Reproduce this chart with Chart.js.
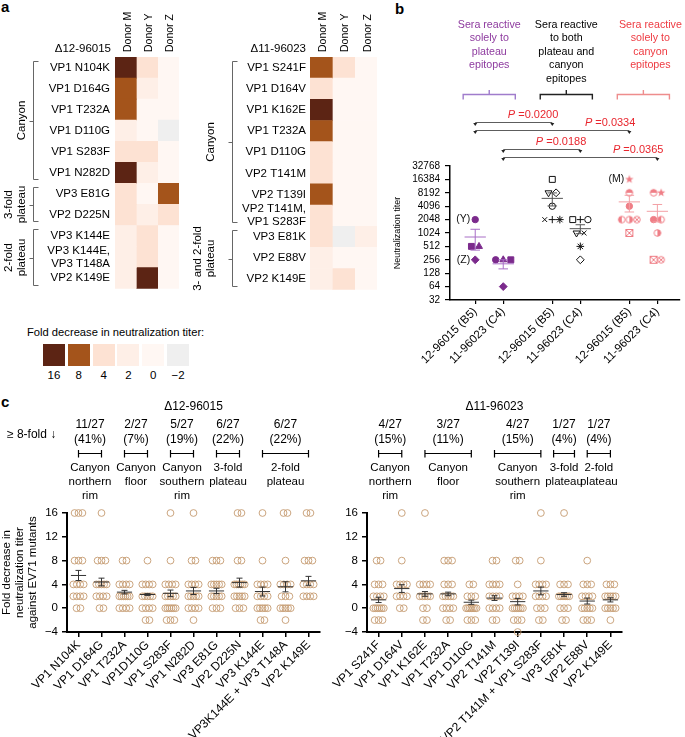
<!DOCTYPE html>
<html>
<head>
<meta charset="utf-8">
<script src="https://cdn.jsdelivr.net/npm/chart.js@4.4.1/dist/chart.umd.min.js"></script>
<style>
 html, body { margin:0; padding:0; background:#fff; }
 body { width:685px; height:737px; position:relative; overflow:hidden; font-family:'Liberation Sans', Arial, Helvetica, sans-serif; color:#000; }
 canvas { position:absolute; }
 .t { position:absolute; white-space:nowrap; line-height:1; }
 .letter { font-weight:bold; font-size:15px; }
</style>
</head>
<body>
<div class="t letter" style="left:1px;top:-1px">a</div>
<div class="t letter" style="left:395px;top:1px">b</div>
<div class="t letter" style="left:1px;top:394px">c</div>
<canvas id="hm1" width="195" height="300" style="left:0;top:0"></canvas>
<canvas id="hm2" width="200" height="300" style="left:190px;top:0"></canvas>
<div id="hmLegend"></div>
<canvas id="pb" width="300" height="400" style="left:385px;top:0"></canvas>
<canvas id="pc1" width="335" height="337" style="left:0;top:400px"></canvas>
<canvas id="pc2" width="365" height="337" style="left:320px;top:400px"></canvas>
<script>
// ================= DATA =================
// Panel a – heatmaps (fold decrease in neutralization titer)
const donors = ['Donor M', 'Donor Y', 'Donor Z'];
const rowsA1 = ['VP1 N104K', 'VP1 D164G', 'VP1 T232A', 'VP1 D110G', 'VP1 S283F', 'VP1 N282D',
                'VP3 E81G', 'VP2 D225N', 'VP3 K144E', ['VP3 K144E,', 'VP3 T148A'], 'VP2 K149E'];
const foldA1_M = [16, 8, 8, 2, 4, 16, 4, 4, 2, 2, 2];
const foldA1_Y = [4, 2, 0, 0, 4, 2, 0, 2, 4, 4, 16];
const foldA1_Z = [0, 0, 0, -2, 0, 0, 8, 4, 0, 0, 0];
const groupsA1 = [
  {label: ['Canyon'], from: 0, to: 5},
  {label: ['3-fold', 'plateau'], from: 6, to: 7},
  {label: ['2-fold', 'plateau'], from: 8, to: 10}
];
const rowsA2 = ['VP1 S241F', 'VP1 D164V', 'VP1 K162E', 'VP1 T232A', 'VP1 D110G', 'VP2 T141M',
                'VP2 T139I', ['VP2 T141M,', 'VP1 S283F'], 'VP3 E81K', 'VP2 E88V', 'VP2 K149E'];
const foldA2_M = [8, 4, 16, 8, 4, 4, 8, 4, 4, 2, 2];
const foldA2_Y = [4, 0, 0, 0, 0, 0, 0, 0, -2, 0, 4];
const foldA2_Z = [0, 0, 0, 0, 0, 0, 0, 0, 2, 0, 0];
const groupsA2 = [
  {label: ['Canyon'], from: 0, to: 7},
  {label: ['3- and 2-fold', 'plateau'], from: 8, to: 10}
];
const legendLevels = [16, 8, 4, 2, 0, -2];

// Panel b – neutralization titers
const virusesB = ['12-96015 (B5)', '11-96023 (C4)'];
const titerPlateauB5 = [2048, 512, 512, 256];
const titerPlateauC4 = [256, 256, 256, 64];
const titerBothB5 = [16384, 8192, 8192, 4096, 2048, 2048, 2048];
const titerBothC4 = [2048, 2048, 2048, 1024, 1024, 512, 256];
const titerCanyonB5 = [16384, 8192, 4096, 2048, 2048, 2048, 1024];
const titerCanyonC4 = [8192, 8192, 2048, 2048, 1024, 256, 256];
const yTicksB = [32, 64, 128, 256, 512, 1024, 2048, 4096, 8192, 16384, 32768];
const headersB = [
  ['Sera reactive', 'solely to', 'plateau', 'epitopes'],
  ['Sera reactive', 'to both', 'plateau and', 'canyon', 'epitopes'],
  ['Sera reactive', 'solely to', 'canyon', 'epitopes']
];
const pValues = ['0.0200', '0.0334', '0.0188', '0.0365'];
const pPairs = [[[0, 0], [1, 0]], [[0, 0], [2, 0]], [[0, 1], [1, 1]], [[0, 1], [2, 1]]];

// Panel c – fold decrease per serum (counts of sera at each fold level, per mutant)
const foldLevelsC = [16, 8, 4, 2, 0, -2, -4];
const yTicksC = [-4, 0, 4, 8, 12, 16];
const mutantsC1 = ['VP1 N104K', 'VP1 D164G', 'VP1 T232A', 'VP1D110G', 'VP1 S283F', 'VP1 N282D',
                   'VP3 E81G', 'VP2 D225N', 'VP3 K144E', 'VP3K144E + VP3 T148A', 'VP2 K149E'];
const c1_at16 = [3, 1, 0, 0, 1, 1, 0, 2, 1, 2, 2];
const c1_at8  = [3, 3, 2, 1, 1, 2, 3, 2, 1, 1, 3];
const c1_at4  = [4, 5, 4, 4, 4, 4, 5, 6, 4, 4, 4];
const c1_at2  = [4, 4, 6, 5, 5, 5, 5, 5, 4, 3, 4];
const c1_at0  = [2, 2, 4, 4, 6, 4, 3, 3, 5, 5, 0];
const c1_atm2 = [0, 0, 0, 2, 3, 1, 0, 0, 2, 1, 0];
const c1_atm4 = [0, 0, 0, 0, 0, 0, 0, 0, 0, 0, 0];
const c1_mean = [5.5, 4.4, 2.7, 2.3, 2.5, 2.9, 2.9, 4.3, 2.8, 3.6, 4.6];
const c1_sem  = [0.85, 0.65, 0.3, 0.15, 0.55, 0.6, 0.45, 0.75, 0.75, 0.85, 0.75];
const regionsC1 = [
  {from: 0, to: 1, frac: ['11/27', '(41%)'], label: ['Canyon', 'northern', 'rim']},
  {from: 2, to: 3, frac: ['2/27', '(7%)'], label: ['Canyon', 'floor']},
  {from: 4, to: 5, frac: ['5/27', '(19%)'], label: ['Canyon', 'southern', 'rim']},
  {from: 6, to: 7, frac: ['6/27', '(22%)'], label: ['3-fold', 'plateau']},
  {from: 8, to: 10, frac: ['6/27', '(22%)'], label: ['2-fold', 'plateau']}
];
const mutantsC2 = ['VP1 S241F', 'VP1 D164V', 'VP1 K162E', 'VP1 T232A', 'VP1 D110G', 'VP2 T141M',
                   'VP2 T139I', 'VP2 T141M + VP1 S283F', 'VP3 E81K', 'VP2 E88V', 'VP2 K149E'];
const c2_at16 = [0, 1, 1, 0, 0, 0, 0, 1, 1, 0, 0];
const c2_at8  = [2, 1, 0, 3, 0, 2, 2, 1, 0, 1, 0];
const c2_at4  = [3, 4, 4, 3, 2, 4, 1, 4, 3, 3, 3];
const c2_at2  = [4, 4, 5, 5, 3, 4, 4, 4, 6, 4, 5];
const c2_at0  = [6, 2, 2, 4, 7, 4, 6, 3, 3, 5, 5];
const c2_atm2 = [3, 0, 2, 2, 3, 2, 3, 2, 2, 3, 1];
const c2_atm4 = [0, 0, 0, 0, 0, 0, 1, 0, 0, 0, 0];
const c2_mean = [1.4, 3.3, 2.4, 2.4, 1.0, 1.7, 1.1, 2.9, 2.3, 1.2, 1.4];
const c2_sem  = [0.45, 0.65, 0.4, 0.3, 0.35, 0.4, 0.55, 0.65, 0.3, 0.5, 0.35];
const regionsC2 = [
  {from: 0, to: 1, frac: ['4/27', '(15%)'], label: ['Canyon', 'northern', 'rim']},
  {from: 2, to: 4, frac: ['3/27', '(11%)'], label: ['Canyon', 'floor']},
  {from: 5, to: 7, frac: ['4/27', '(15%)'], label: ['Canyon', 'southern', 'rim']},
  {from: 8, to: 8, frac: ['1/27', '(4%)'], label: ['3-fold', 'plateau']},
  {from: 9, to: 10, frac: ['1/27', '(4%)'], label: ['2-fold', 'plateau']}
];

// ================= STYLE / HELPERS =================
const FONT = "'Liberation Sans', Arial, Helvetica, sans-serif";
Chart.defaults.font.family = FONT;
Chart.defaults.color = '#000';
Chart.defaults.animation = false;
Chart.defaults.plugins.legend.display = false;
Chart.defaults.plugins.tooltip.enabled = false;

const foldColor = {'16': '#5c2414', '8': '#a4541b', '4': '#fde2d3', '2': '#feefe7', '0': '#fff7f3', '-2': '#efefef'};
const fmtMinus = v => (v < 0 ? '\u2212' + Math.abs(v) : String(v));

function drawRotText(ctx, text, x, y, align) {
  ctx.save();
  ctx.translate(x, y);
  ctx.rotate(-Math.PI / 2);
  ctx.textAlign = align;
  ctx.textBaseline = 'middle';
  ctx.fillText(text, 0, 0);
  ctx.restore();
}

function jitterOffsets(values, spacing, maxSpan) {
  const count = {}, seen = {};
  values.forEach(v => { count[v] = (count[v] || 0) + 1; });
  return values.map(v => {
    const n = count[v];
    const k = seen[v] = (seen[v] === undefined ? 0 : seen[v] + 1);
    let s = spacing;
    if (maxSpan && n > 1) s = Math.min(spacing, maxSpan / (n - 1));
    return (k - (n - 1) / 2) * s;
  });
}

// ================= PANEL a =================
function makeHeatmap(id, title, rows, folds, groups, geo) {
  const plugin = {
    id: 'heat_' + id,
    afterDraw(chart) {
      const {ctx, chartArea: ca, scales: {x, y}} = chart;
      ctx.save();
      ctx.fillStyle = '#000';
      ctx.font = '11.5px ' + FONT;
      ctx.textAlign = 'right';
      ctx.textBaseline = 'middle';
      ctx.fillText(title, ca.left - 4, 49);
      ctx.font = '10.5px ' + FONT;
      donors.forEach((d, i) => drawRotText(ctx, d, x.getPixelForValue(i + 0.5) + 2, ca.top - 5, 'left'));
      const half = (y.getPixelForValue(1) - y.getPixelForValue(0)) / 2;
      ctx.strokeStyle = '#666';
      ctx.lineWidth = 1;
      ctx.font = '11.5px ' + FONT;
      groups.forEach(gr => {
        const top = Math.round(y.getPixelForValue(gr.from) - half + 4) + 0.5;
        const bot = Math.round(y.getPixelForValue(gr.to) + half - 4) + 0.5;
        const bx = geo.bracketX + 0.5;
        const mid = (top + bot) / 2;
        ctx.beginPath();
        ctx.moveTo(bx + 5, top); ctx.lineTo(bx, top); ctx.lineTo(bx, bot); ctx.lineTo(bx + 5, bot);
        ctx.moveTo(bx, Math.round(mid) + 0.5); ctx.lineTo(bx - 4, Math.round(mid) + 0.5);
        ctx.stroke();
        gr.label.forEach((line, k) => drawRotText(ctx, line, geo.labelX - (gr.label.length - 1 - k) * 13, mid, 'center'));
      });
      ctx.restore();
    }
  };
  new Chart(document.getElementById(id), {
    type: 'bar',
    data: {
      labels: rows,
      datasets: folds.map((f, i) => ({
        label: donors[i],
        data: rows.map(() => 1),
        backgroundColor: f.map(v => foldColor[v]),
        borderWidth: 0,
        barPercentage: 1,
        categoryPercentage: 1
      }))
    },
    options: {
      indexAxis: 'y',
      responsive: false,
      layout: {padding: {top: 57, bottom: 3, left: 0, right: geo.padRight}},
      scales: {
        x: {stacked: true, min: 0, max: 3, display: false},
        y: {
          stacked: true,
          grid: {display: false, drawTicks: false},
          border: {display: false},
          ticks: {autoSkip: false, padding: geo.labelPad, font: {size: 11.5, lineHeight: 1.1}, color: '#000'},
          afterFit(s) { s.width = geo.axisWidth; }
        }
      }
    },
    plugins: [plugin]
  });
}
makeHeatmap('hm1', '\u039412-96015', rowsA1, [foldA1_M, foldA1_Y, foldA1_Z], groupsA1,
  {padRight: 16, labelPad: 5, axisWidth: 115, bracketX: 33, labelX: 22});
makeHeatmap('hm2', '\u039411-96023', rowsA2, [foldA2_M, foldA2_Y, foldA2_Z], groupsA2,
  {padRight: 13, labelPad: 4, axisWidth: 120, bracketX: 42, labelX: 21});

(function legend() {
  const leg = document.getElementById('hmLegend');
  let html = '<div class="t" style="left:27px;top:327px;font-size:11.2px">Fold decrease in neutralization titer:</div>';
  legendLevels.forEach((v, i) => {
    const left = 43 + i * 24.8;
    html += `<div style="position:absolute;left:${left}px;top:344px;width:22px;height:22px;background:${foldColor[v]}"></div>`;
    html += `<div class="t" style="left:${left - 4}px;width:30px;text-align:center;top:370px;font-size:11.5px">${fmtMinus(v)}</div>`;
  });
  leg.innerHTML = html;
})();

// ================= PANEL b =================
const xOf = (g, v) => 1 + g * 2.75 + v;
const groupStyleB = [
  {point: '#7b2a8c', fill: true, mean: '#a86ec6', header: '#8e3b9f', bracket: '#a07ccc'},
  {point: '#111111', fill: false, mean: '#555555', header: '#000000', bracket: '#222222'},
  {point: '#ef7e86', fill: true, mean: '#f3a0a5', header: '#ee3b42', bracket: '#ee8d8d'}
];
const markPlateauB5 = ['circle', 'rect', 'triangle', 'rectRot'];
const markPlateauC4 = ['circle', 'triangle', 'rect', 'rectRot'];
const markBothB5 = ['rect', 'triangleDown', 'rectRot', 'circle', 'crossRot', 'cross', 'star'];
const markBothC4 = ['rect', 'cross', 'circle', 'triangleDown', 'crossRot', 'star', 'rectRot'];
const markCanyonB5 = ['star5', 'halfTop', 'circle', 'halfLeft', 'halfRight', 'circleX', 'squareX'];
const markCanyonC4 = ['halfTop', 'star5', 'circle', 'halfLeft', 'halfRight', 'squareX', 'circleX'];
const seriesB = [
  {g: 0, v: 0, titers: titerPlateauB5, marks: markPlateauB5, tags: ['(Y)', '', '', '(Z)']},
  {g: 0, v: 1, titers: titerPlateauC4, marks: markPlateauC4},
  {g: 1, v: 0, titers: titerBothB5, marks: markBothB5},
  {g: 1, v: 1, titers: titerBothC4, marks: markBothC4},
  {g: 2, v: 0, titers: titerCanyonB5, marks: markCanyonB5, tags: ['(M)']},
  {g: 2, v: 1, titers: titerCanyonC4, marks: markCanyonC4}
];

function markerCanvas(kind, color) {
  const c = document.createElement('canvas');
  c.width = 10; c.height = 10;
  const g = c.getContext('2d');
  const cx = 5, cy = 5, r = 3.3;
  g.strokeStyle = color; g.fillStyle = color; g.lineWidth = 1;
  const ring = () => { g.beginPath(); g.arc(cx, cy, r, 0, Math.PI * 2); g.stroke(); };
  switch (kind) {
    case 'star5':
      g.beginPath();
      for (let i = 0; i < 10; i++) {
        const a = -Math.PI / 2 + i * Math.PI / 5, rr = i % 2 ? 1.8 : 4.4;
        g.lineTo(cx + rr * Math.cos(a), cy + rr * Math.sin(a));
      }
      g.closePath(); g.fill(); break;
    case 'halfTop':
      ring(); g.beginPath(); g.arc(cx, cy, r, Math.PI, Math.PI * 2); g.closePath(); g.fill(); break;
    case 'halfLeft':
      ring(); g.beginPath(); g.arc(cx, cy, r, Math.PI / 2, Math.PI * 1.5); g.closePath(); g.fill(); break;
    case 'halfRight':
      ring(); g.beginPath(); g.arc(cx, cy, r, -Math.PI / 2, Math.PI / 2); g.closePath(); g.fill(); break;
    case 'circleX':
      ring(); g.beginPath();
      g.moveTo(cx - 2.3, cy - 2.3); g.lineTo(cx + 2.3, cy + 2.3);
      g.moveTo(cx + 2.3, cy - 2.3); g.lineTo(cx - 2.3, cy + 2.3); g.stroke(); break;
    case 'squareX':
      g.strokeRect(1.5, 1.5, 7, 7); g.beginPath();
      g.moveTo(1.5, 1.5); g.lineTo(8.5, 8.5); g.moveTo(8.5, 1.5); g.lineTo(1.5, 8.5); g.stroke(); break;
  }
  return c;
}
const customKinds = ['star5', 'halfTop', 'halfLeft', 'halfRight', 'circleX', 'squareX'];
const radiusFor = {circle: 3.2, rect: 4.2, rectRot: 3.9, triangle: 4, triangleDown: 4, cross: 3.6, crossRot: 3.4, star: 3.8};

const datasetsB = seriesB.map(s => {
  const st = groupStyleB[s.g];
  const offs = jitterOffsets(s.titers, 0.27);
  const styles = s.marks.map(m => customKinds.includes(m) ? markerCanvas(m, st.point) : (m === 'triangleDown' ? 'triangle' : m));
  return {
    data: s.titers.map((t, i) => ({x: xOf(s.g, s.v) + offs[i], y: t})),
    pointStyle: ctx => styles[ctx.dataIndex],
    rotation: ctx => (s.marks[ctx.dataIndex] === 'triangleDown' ? 180 : 0),
    pointRadius: ctx => radiusFor[s.marks[ctx.dataIndex]] || 3.5,
    borderColor: st.point,
    backgroundColor: st.fill ? st.point : 'rgba(0,0,0,0)',
    borderWidth: 1,
    clip: false
  };
});

const meanPluginB = {
  id: 'meanB',
  afterDatasetsDraw(chart) {
    const {ctx, scales: {x, y}} = chart;
    const unit = x.getPixelForValue(1) - x.getPixelForValue(0);
    ctx.save();
    ctx.lineWidth = 1;
    seriesB.forEach(s => {
      const vals = s.titers, n = vals.length;
      const m = vals.reduce((a, b) => a + b, 0) / n;
      const sd = Math.sqrt(vals.reduce((a, b) => a + (b - m) * (b - m), 0) / (n - 1));
      const se = sd / Math.sqrt(n);
      const cx = x.getPixelForValue(xOf(s.g, s.v));
      const ym = y.getPixelForValue(m), yt = y.getPixelForValue(m + se), yb = y.getPixelForValue(m - se);
      ctx.strokeStyle = groupStyleB[s.g].mean;
      ctx.beginPath();
      ctx.moveTo(cx - 0.38 * unit, ym); ctx.lineTo(cx + 0.38 * unit, ym);
      ctx.moveTo(cx, yt); ctx.lineTo(cx, yb);
      ctx.moveTo(cx - 0.17 * unit, yt); ctx.lineTo(cx + 0.17 * unit, yt);
      ctx.moveTo(cx - 0.17 * unit, yb); ctx.lineTo(cx + 0.17 * unit, yb);
      ctx.stroke();
    });
    ctx.restore();
  }
};

const pLineY = [122, 130, 149, 157];
const annotPluginB = {
  id: 'annotB',
  afterDraw(chart) {
    const {ctx, chartArea: ca, scales: {x}} = chart;
    const unit = x.getPixelForValue(1) - x.getPixelForValue(0);
    ctx.save();
    // headers + brackets
    ctx.textAlign = 'center'; ctx.textBaseline = 'middle';
    ctx.font = '10.7px ' + FONT;
    headersB.forEach((lines, g) => {
      const cx = x.getPixelForValue(xOf(g, 0.5));
      ctx.fillStyle = groupStyleB[g].header;
      lines.forEach((t, k) => ctx.fillText(t, cx + (g === 2 ? 7 : 0), 25 + 13.5 * k));
      ctx.strokeStyle = groupStyleB[g].bracket; ctx.lineWidth = 1.4;
      const x1 = cx - 0.93 * unit, x2 = cx + 0.93 * unit;
      ctx.beginPath();
      ctx.moveTo(x1, 99.5); ctx.lineTo(x1, 94.5); ctx.lineTo(x2, 94.5); ctx.lineTo(x2, 99.5);
      ctx.moveTo(cx, 94.5); ctx.lineTo(cx, 90);
      ctx.stroke();
    });
    // p-value comparisons
    pPairs.forEach((pr, k) => {
      const xa = x.getPixelForValue(xOf(pr[0][0], pr[0][1]));
      const xb = x.getPixelForValue(xOf(pr[1][0], pr[1][1]));
      const ly = pLineY[k] + 0.5;
      ctx.strokeStyle = '#333'; ctx.fillStyle = '#222'; ctx.lineWidth = 0.8;
      ctx.beginPath(); ctx.moveTo(xa, ly); ctx.lineTo(xb, ly); ctx.stroke();
      [xa, xb].forEach(px => {
        ctx.beginPath(); ctx.moveTo(px - 2, ly + 0.5); ctx.lineTo(px + 2, ly + 0.5); ctx.lineTo(px, ly + 3.5); ctx.closePath(); ctx.fill();
      });
      ctx.fillStyle = '#e8262e';
      ctx.textAlign = 'left'; ctx.textBaseline = 'alphabetic';
      ctx.font = 'italic 11px ' + FONT; const wP = ctx.measureText('P').width;
      const rest = ' =' + pValues[k];
      ctx.font = '11px ' + FONT; const wR = ctx.measureText(rest).width;
      const right = xb + 6;
      ctx.font = 'italic 11px ' + FONT; ctx.fillText('P', right - wR - wP, ly - 5);
      ctx.font = '11px ' + FONT; ctx.fillText(rest, right - wR, ly - 5);
    });
    // y title
    ctx.fillStyle = '#000'; ctx.font = '9px ' + FONT;
    drawRotText(ctx, 'Neutralization titer', 13, (ca.top + ca.bottom) / 2, 'center');
    // donor tags next to points
    ctx.font = '10.5px ' + FONT; ctx.textAlign = 'right'; ctx.textBaseline = 'middle'; ctx.fillStyle = '#111';
    seriesB.forEach((s, di) => {
      if (!s.tags) return;
      const meta = chart.getDatasetMeta(di);
      s.tags.forEach((t, i) => { if (t) ctx.fillText(t, meta.data[i].x - 5, meta.data[i].y); });
    });
    ctx.restore();
  }
};

new Chart(document.getElementById('pb'), {
  type: 'scatter',
  data: {datasets: datasetsB},
  options: {
    responsive: false,
    layout: {padding: {top: 166, right: 5, left: 0, bottom: 0}},
    scales: {
      x: {
        type: 'linear', min: 0.1, max: 8.3,
        afterBuildTicks(s) { s.ticks = [0, 1, 2].flatMap(g => [0, 1].map(v => ({value: xOf(g, v)}))); },
        ticks: {autoSkip: false, minRotation: 45, maxRotation: 45, padding: 1, font: {size: 11.5}, callback: (v, i) => virusesB[i % 2]},
        grid: {drawOnChartArea: false, tickLength: 4, color: '#000', lineWidth: 1.2},
        border: {color: '#000', width: 1.5},
        afterFit(s) { s.height = 100; }
      },
      y: {
        type: 'logarithmic', min: 32, max: 32768,
        afterBuildTicks(s) { s.ticks = yTicksB.map(v => ({value: v})); },
        ticks: {autoSkip: false, padding: 5, font: {size: 10}, callback: v => String(v)},
        grid: {drawOnChartArea: false, tickLength: 5, color: '#000', lineWidth: 1.2},
        border: {color: '#000', width: 1.5},
        afterFit(s) { s.width = 65; }
      }
    }
  },
  plugins: [meanPluginB, annotPluginB]
});

// ================= PANEL c =================
function panelCPlugin(cfg) {
  return {
    id: 'pc_' + cfg.id,
    afterDatasetsDraw(chart) {
      const {ctx, scales: {x, y}} = chart;
      const w = x.getPixelForValue(1) - x.getPixelForValue(0);
      ctx.save();
      ctx.strokeStyle = '#333'; ctx.lineWidth = 1;
      cfg.means.forEach((m, i) => {
        const cx = x.getPixelForValue(i);
        const ym = y.getPixelForValue(m), yt = y.getPixelForValue(m + cfg.sems[i]), yb = y.getPixelForValue(m - cfg.sems[i]);
        ctx.beginPath();
        ctx.moveTo(cx - 0.33 * w, ym); ctx.lineTo(cx + 0.33 * w, ym);
        ctx.moveTo(cx, yt); ctx.lineTo(cx, yb);
        ctx.moveTo(cx - 0.13 * w, yt); ctx.lineTo(cx + 0.13 * w, yt);
        ctx.moveTo(cx - 0.13 * w, yb); ctx.lineTo(cx + 0.13 * w, yb);
        ctx.stroke();
      });
      ctx.restore();
    },
    afterDraw(chart) {
      const {ctx, chartArea: ca, scales: {x}} = chart;
      const w = x.getPixelForValue(1) - x.getPixelForValue(0);
      ctx.save();
      ctx.fillStyle = '#000'; ctx.strokeStyle = '#000';
      ctx.textAlign = 'center'; ctx.textBaseline = 'middle';
      ctx.font = '12px ' + FONT;
      ctx.fillText(cfg.header, (ca.left + ca.right) / 2, 7);
      cfg.regions.forEach(r => {
        let x1 = x.getPixelForValue(r.from), x2 = x.getPixelForValue(r.to);
        if (r.from === r.to) { x1 -= 0.45 * w; x2 += 0.45 * w; }
        const cx = (x1 + x2) / 2;
        ctx.font = '12px ' + FONT;
        r.frac.forEach((t, k) => ctx.fillText(t, cx, 25 + 15 * k));
        ctx.lineWidth = 1.2;
        ctx.beginPath();
        ctx.moveTo(x1, 53.5); ctx.lineTo(x2, 53.5);
        ctx.moveTo(x1, 50); ctx.lineTo(x1, 57.5);
        ctx.moveTo(x2, 50); ctx.lineTo(x2, 57.5);
        ctx.stroke();
        ctx.font = '11.5px ' + FONT;
        r.label.forEach((t, k) => ctx.fillText(t, cx, 68 + 13.7 * k));
      });
      if (cfg.leftNote) {
        ctx.font = '12px ' + FONT;
        ctx.textAlign = 'left';
        ctx.fillText(cfg.leftNote, 7, 35);
      }
      if (cfg.yTitle) {
        ctx.font = '11.5px ' + FONT;
        cfg.yTitle.forEach((t, k) => drawRotText(ctx, t, 7 + 13 * k, (ca.top + ca.bottom) / 2, 'center'));
      }
      ctx.restore();
    }
  };
}

function makePanelC(cfg) {
  const pts = [];
  cfg.mutants.forEach((_, i) => {
    const vals = [];
    foldLevelsC.forEach((L, li) => { for (let k = 0; k < cfg.counts[li][i]; k++) vals.push(L); });
    const offs = jitterOffsets(vals, 0.17, 0.45);
    vals.forEach((v, j) => pts.push({x: i + offs[j], y: v}));
  });
  new Chart(document.getElementById(cfg.id), {
    type: 'scatter',
    data: {datasets: [{
      data: pts, pointStyle: 'circle', pointRadius: 3.4,
      borderColor: '#c59b70', backgroundColor: 'rgba(0,0,0,0)', borderWidth: 0.9, clip: false
    }]},
    options: {
      responsive: false,
      layout: {padding: {top: 113, right: cfg.padRight, left: 0, bottom: 0}},
      scales: {
        x: {
          type: 'linear', min: -0.5, max: 10.5,
          afterBuildTicks(s) { s.ticks = cfg.mutants.map((_, i) => ({value: i})); },
          ticks: {autoSkip: false, minRotation: 45, maxRotation: 45, padding: 1, font: {size: 12}, callback: v => cfg.mutants[Math.round(v)]},
          grid: {drawOnChartArea: false, tickLength: 5, color: '#000', lineWidth: 1.5},
          border: {color: '#000', width: 2},
          afterFit(s) { s.height = 105; }
        },
        y: {
          min: -4, max: 16,
          afterBuildTicks(s) { s.ticks = yTicksC.map(v => ({value: v})); },
          ticks: {autoSkip: false, padding: 4, font: {size: 11.5}, callback: v => fmtMinus(v)},
          grid: {drawOnChartArea: false, tickLength: 5, color: '#000', lineWidth: 1.5},
          border: {color: '#000', width: 2},
          afterFit(s) { s.width = cfg.axisWidth; }
        }
      }
    },
    plugins: [panelCPlugin(cfg)]
  });
}

makePanelC({
  id: 'pc1', header: '\u039412-96015', mutants: mutantsC1,
  counts: [c1_at16, c1_at8, c1_at4, c1_at2, c1_at0, c1_atm2, c1_atm4],
  means: c1_mean, sems: c1_sem, regions: regionsC1,
  leftNote: '\u2265 8-fold \u2193',
  yTitle: ['Fold decrease in', 'neutralization titer', 'against EV71 mutants'],
  padRight: 15, axisWidth: 67
});
makePanelC({
  id: 'pc2', header: '\u039411-96023', mutants: mutantsC2,
  counts: [c2_at16, c2_at8, c2_at4, c2_at2, c2_at0, c2_atm2, c2_atm4],
  means: c2_mean, sems: c2_sem, regions: regionsC2,
  padRight: 63, axisWidth: 47
});
</script>
</body>
</html>
